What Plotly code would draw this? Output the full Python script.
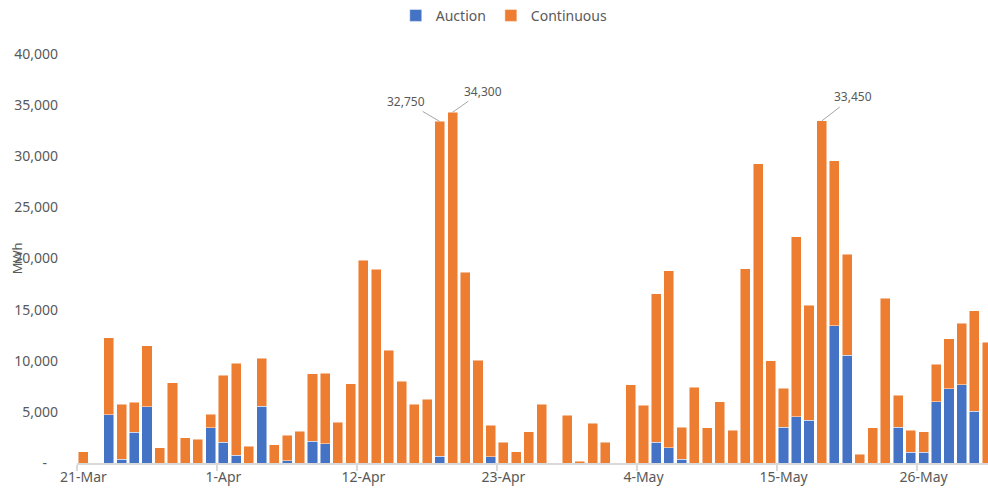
import datetime as dt
import plotly.graph_objects as go

start = dt.date(2021, 3, 21)
dates = [start + dt.timedelta(days=i) for i in range(72)]

auction = [0, 0, 4700, 360, 3000, 5480, 0, 0, 0, 0, 3460, 2050, 780, 0, 5540, 0, 200, 0,
           2150, 1890, 0, 0, 0, 0, 0, 0, 0, 0, 650, 0, 0, 0, 590, 0, 0, 0, 0, 0, 0, 0,
           0, 0, 0, 0, 0, 2020, 1500, 360, 0, 0, 0, 0, 0, 0, 0, 3490, 4530, 4200, 0,
           13430, 10530, 0, 0, 0, 3490, 1050, 1050, 6000, 7240, 7630, 5050, 0]
continuous = [1100, 0, 7550, 5390, 2950, 5990, 1470, 7850, 2480, 2310, 1300, 6520, 9000,
              1630, 4700, 1790, 2500, 3130, 6590, 6910, 3980, 7730, 19850, 18940, 11050,
              8020, 5770, 6230, 32750, 34300, 18650, 10070, 3090, 2020, 1080, 3060, 5740,
              0, 4660, 150, 3910, 2020, 0, 7660, 5670, 14510, 17280, 3160, 7430, 3460,
              5970, 3190, 19000, 29270, 10010, 3810, 17610, 11250, 33450, 16140, 9880, 850,
              3460, 16100, 3130, 2150, 2010, 3650, 4920, 6060, 9850, 11830]

y_ticks = [0, 5000, 10000, 15000, 20000, 25000, 30000, 35000, 40000]
y_labels = ["-   "] + [f"{v:,}" for v in y_ticks[1:]]
x_tick_dates = [dates[i] for i in range(0, 72, 11)]
x_tick_labels = [d.strftime("%-d-%b") for d in x_tick_dates]

# labelled bars: index -> (ax, ay) offsets of the callout
callouts = {28: (-34, -20), 29: (30, -21), 58: (31, -24)}

grey = "#595959"
font_family = "Noto Sans, Open Sans, sans-serif"

fig = go.Figure()
fig.add_bar(x=dates, y=auction, name="Auction", marker_color="#4472C4",
            marker_line=dict(color="rgba(255,255,255,0.6)", width=0.8))
fig.add_bar(x=dates, y=continuous, name="Continuous", marker_color="#ED7D31",
            marker_line=dict(color="rgba(255,255,255,0.6)", width=0.8))

for i, (ax, ay) in callouts.items():
    fig.add_annotation(x=dates[i], y=auction[i] + continuous[i],
                       text=f"{continuous[i]:,}", showarrow=True, arrowhead=0,
                       arrowwidth=1, arrowcolor="#A6A6A6", ax=ax, ay=ay,
                       font=dict(size=12, color=grey, family=font_family))

fig.add_annotation(xref="paper", yref="paper", x=-0.066, y=0.5, text="MWh",
                   textangle=-90, showarrow=False, xanchor="center", yanchor="middle",
                   font=dict(size=13, color=grey, family=font_family))

day_ms = 86400000
x0 = dt.datetime(2021, 3, 20, 12)
x1 = x0 + dt.timedelta(days=911 / 12.73)

fig.update_layout(
    barmode="stack",
    bargap=0.21,
    width=988, height=493,
    margin=dict(l=77, r=0, t=54, b=30),
    plot_bgcolor="white", paper_bgcolor="white",
    font=dict(family=font_family, color=grey, size=14),
    legend=dict(orientation="h", xref="paper", x=0.469, xanchor="center",
                yref="container", y=0.968, yanchor="middle",
                font=dict(size=14, color=grey), traceorder="normal"),
    xaxis=dict(type="date", range=[x0, x1], tickvals=x_tick_dates, ticktext=x_tick_labels,
               ticks="", showline=True, linecolor="#D9D9D9", linewidth=1.5,
               showgrid=False, tickfont=dict(size=14, color=grey),
               minor=dict(ticks="outside", ticklen=6, tickcolor="#D9D9D9", tickwidth=1.5,
                          tickmode="linear", tick0=x0, dtick=11 * day_ms, showgrid=False)),
    yaxis=dict(range=[0, 40000], tickvals=y_ticks, ticktext=y_labels, showgrid=False,
               showline=False, zeroline=False, ticks="", ticklabelstandoff=18,
               tickfont=dict(size=14, color=grey)),
)

fig.write_html("out.html", config={"displayModeBar": False},
               post_script="document.body.style.margin='0';")
